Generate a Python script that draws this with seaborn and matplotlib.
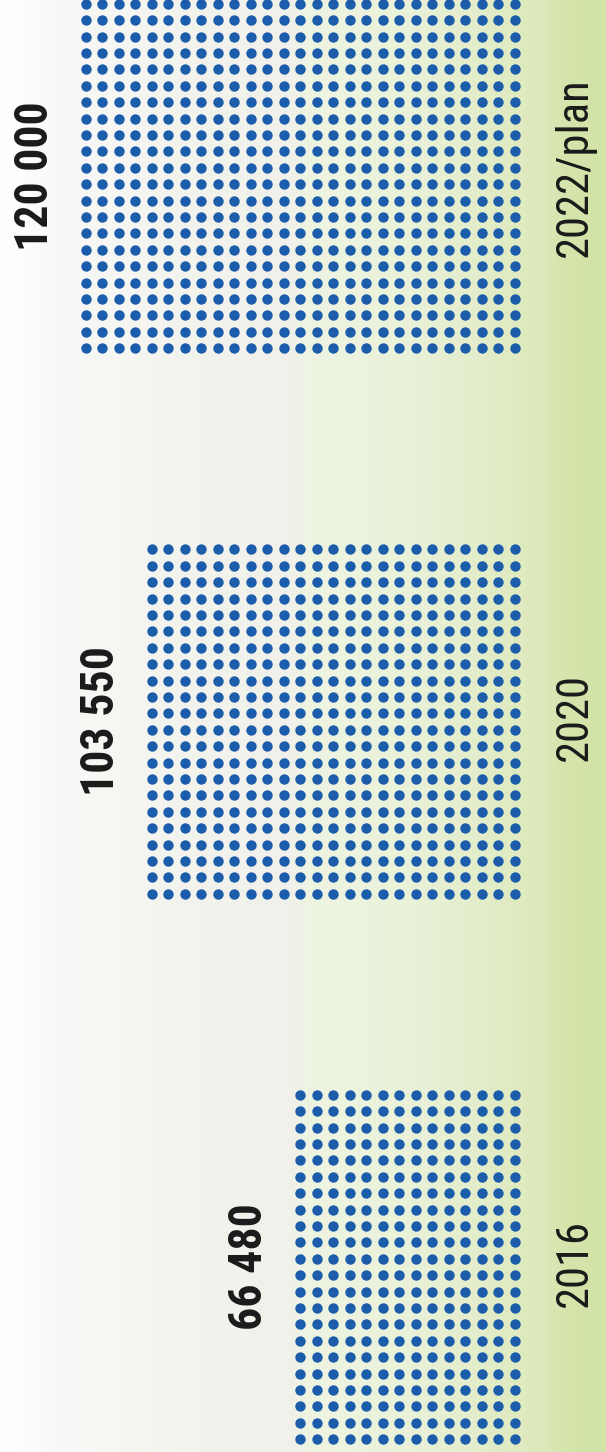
import numpy as np
import pandas as pd
import matplotlib.pyplot as plt
import seaborn as sns
from matplotlib import font_manager as fm
from matplotlib.colors import to_rgb

# chart values
years = ['2016', '2020', '2022/plan']
values = [66480, 103550, 120000]
value_labels = ['66 480', '103 550', '120 000']

sns.set_theme(style='white')
plt.rcParams['font.family'] = ['DejaVu Sans']


def weight_num(w):
    if isinstance(w, (int, float)):
        return w
    table = {'thin': 100, 'extralight': 200, 'light': 300, 'normal': 400,
             'regular': 400, 'book': 400, 'medium': 500, 'semibold': 600,
             'demibold': 600, 'bold': 700, 'extrabold': 800, 'heavy': 800,
             'black': 900}
    return table.get(str(w).lower().replace(' ', ''), 400)


def pick_condensed(target_weight):
    """Find a narrow / condensed font file among the installed fonts."""
    narrow = []
    for f in fm.fontManager.ttflist:
        st = str(f.stretch).lower()
        if ('condensed' in st or 'narrow' in f.name.lower()
                or 'condensed' in f.name.lower()):
            if f.style != 'normal':
                continue
            narrow.append(f)
    if not narrow:
        return None
    pref = ['Roboto Condensed', 'Liberation Sans Narrow', 'Noto Sans',
            'DejaVu Sans', 'Open Sans']

    def score(f):
        fam = pref.index(f.name) if f.name in pref else len(pref)
        st = str(f.stretch).lower()
        semi = 1 if 'semi' in st else 0
        return (fam, abs(weight_num(f.weight) - target_weight), semi)
    return sorted(narrow, key=score)[0].fname


bold_file = pick_condensed(700)
reg_file = pick_condensed(400)
bold_font = fm.FontProperties(fname=bold_file) if bold_file else fm.FontProperties(family='DejaVu Sans', weight='bold')
reg_font = fm.FontProperties(fname=reg_file) if reg_file else fm.FontProperties(family='DejaVu Sans')

DOT_COLOR = '#1b5cab'
UNIT = 4440          # value per column of dots
N_ROWS = 22
COL_PX = 16.5        # pixel spacing of dot columns
ROW_PX = 16.4
CAT_PX = 545.5       # pixel distance between categories
BASE_PX = 523        # x pixel of the zero line
CAT0_PX = 1267       # y pixel of the first category
W, H = 606, 1452

# build the dot grid from the values
rows = []
for c, (year, v) in enumerate(zip(years, values)):
    n_cols = int(v // UNIT)
    for k in range(n_cols):
        for r in range(N_ROWS):
            rows.append({'year': year,
                         'x': (k + 0.5) * UNIT,
                         'y': c + (r - (N_ROWS - 1) / 2) * ROW_PX / CAT_PX})
dots = pd.DataFrame(rows)

fig = plt.figure(figsize=(W / 100, H / 100), dpi=100)
ax = fig.add_axes([0, 0, 1, 1])

x_left = BASE_PX / COL_PX * UNIT
x_right = -(W - BASE_PX) / COL_PX * UNIT
y_bottom = -(H - CAT0_PX) / CAT_PX
y_top = CAT0_PX / CAT_PX

# background: white to pale green, stepped like the print
stops_px = [0, 25, 60, 120, 200, 290, 310, 400, 470, 540, 570, 606]
stops_col = ['#ffffff', '#fdfdfd', '#f8f8f7', '#f6f6f2', '#f2f3ed', '#f0f1ea',
             '#eef4e2', '#eaf2da', '#e4eecd', '#dde9bb', '#d4e4aa', '#d2e3a8']
px = np.arange(W)
rgb = np.array([to_rgb(s) for s in stops_col])
grad = np.stack([np.interp(px, stops_px, rgb[:, i]) for i in range(3)], axis=-1)
ax.imshow(grad[np.newaxis, :, :], extent=(x_left, x_right, y_bottom, y_top),
          aspect='auto', zorder=0, interpolation='nearest')

sns.scatterplot(data=dots, x='x', y='y', ax=ax, color=DOT_COLOR, s=56,
                linewidth=0, legend=False, zorder=2)

year_shift = [3, 3, 6]   # small vertical nudges of the year labels, points
for c, (year, v, lab) in enumerate(zip(years, values, value_labels)):
    bar_end = int(v // UNIT) * UNIT
    ax.annotate(lab, (bar_end, c), xytext=(-15, 0), textcoords='offset points',
                rotation=90, ha='right', va='center', fontproperties=bold_font,
                fontsize=33, color='#1a1a1a', zorder=3)
    ax.annotate(year, (0, c), xytext=(37, year_shift[c]), textcoords='offset points',
                rotation=90, ha='center', va='center', fontproperties=reg_font,
                fontsize=32, color='#1a1a1a', zorder=3)

ax.set_xlim(x_left, x_right)
ax.set_ylim(y_bottom, y_top)
ax.axis('off')

fig.savefig('out.png', dpi=100)
